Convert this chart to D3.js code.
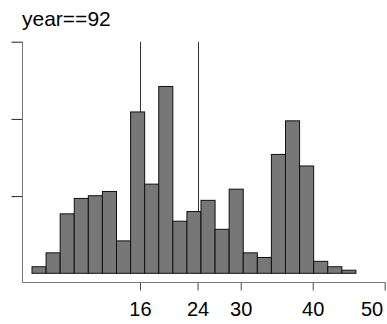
<!DOCTYPE html>
<html>
<head>
<meta charset="utf-8">
<script src="https://cdn.jsdelivr.net/npm/d3@7"></script>
<style>
  body { margin: 0; background: #fff; }
  text { font-family: "Liberation Sans", Arial, sans-serif; }
</style>
</head>
<body>
<svg width="387" height="324"></svg>
<script>
// histogram heights (density), bins start at 1 with width 45/23
var binStart = 1,
    binWidth = 45 / 23;
var density = [0.0017, 0.0053, 0.0154, 0.0194, 0.0201, 0.0212, 0.0084, 0.0418, 0.0231, 0.0484,
    0.0135, 0.0160, 0.0189, 0.0114, 0.0218, 0.0053, 0.0041, 0.0308, 0.0395, 0.0278,
    0.0031, 0.0017, 0.0008];
var xTicks = [16, 24, 30, 40, 50],
    yTicks = [0.02, 0.04, 0.06],
    refLines = [16, 24],
    title = "year==92";

var svg = d3.select("svg");

var x = d3.scaleLinear().domain([0, 50]).range([24.8, 384.7]),
    y = d3.scaleLinear().domain([0, 0.06]).range([273.3, 41.7]);

var axisY = 282.5, // x-as ligt iets onder de nul-lijn
    axisX = 22.5;

var bins = density.map(function (d, i) {
    return { x0: binStart + i * binWidth, x1: binStart + (i + 1) * binWidth, v: d };
});

// verticale lijnen achter de staven
svg.selectAll(".ref")
    .data(refLines)
    .enter().append("line")
    .attr("class", "ref")
    .attr("x1", function (d) { return Math.round(x(d)) + 0.5; })
    .attr("x2", function (d) { return Math.round(x(d)) + 0.5; })
    .attr("y1", y(0))
    .attr("y2", y(0.06))
    .attr("stroke", "#333")
    .attr("stroke-width", 1);

svg.selectAll(".bar")
    .data(bins)
    .enter().append("rect")
    .attr("class", "bar")
    .attr("x", function (d) { return x(d.x0); })
    .attr("y", function (d) { return y(d.v); })
    .attr("width", function (d) { return x(d.x1) - x(d.x0); })
    .attr("height", function (d) { return y(0) - y(d.v); })
    .attr("fill", "#777")
    .attr("stroke", "#111")
    .attr("stroke-width", 1);

// x-as
var gx = svg.append("g")
    .attr("transform", "translate(0," + axisY + ")")
    .call(d3.axisBottom(x).tickValues(xTicks).tickSize(8).tickSizeOuter(0).tickPadding(11));
gx.select(".domain").remove();
gx.selectAll(".tick line").attr("stroke", "#444");
gx.selectAll(".tick text")
    .attr("fill", "#000")
    .style("font-size", "20px")
    .style("font-family", "'Liberation Sans', Arial, sans-serif");
// laatste label binnen de rand houden
gx.selectAll(".tick text")
    .filter(function (d) { return d === 50; })
    .attr("text-anchor", "end")
    .attr("x", -2);

// y-as zonder labels
var gy = svg.append("g")
    .attr("transform", "translate(" + axisX + ",0)")
    .call(d3.axisLeft(y).tickValues(yTicks).tickSize(11).tickFormat(""));
gy.select(".domain").remove();
gy.selectAll(".tick line").attr("stroke", "#222");

svg.append("line")
    .attr("x1", axisX).attr("x2", 385)
    .attr("y1", axisY).attr("y2", axisY)
    .attr("stroke", "#777");
svg.append("line")
    .attr("x1", axisX).attr("x2", axisX)
    .attr("y1", y(0.06)).attr("y2", axisY)
    .attr("stroke", "#777");

svg.append("text")
    .attr("x", 22)
    .attr("y", 26)
    .style("font-size", "21px")
    .text(title);
</script>
</body>
</html>
